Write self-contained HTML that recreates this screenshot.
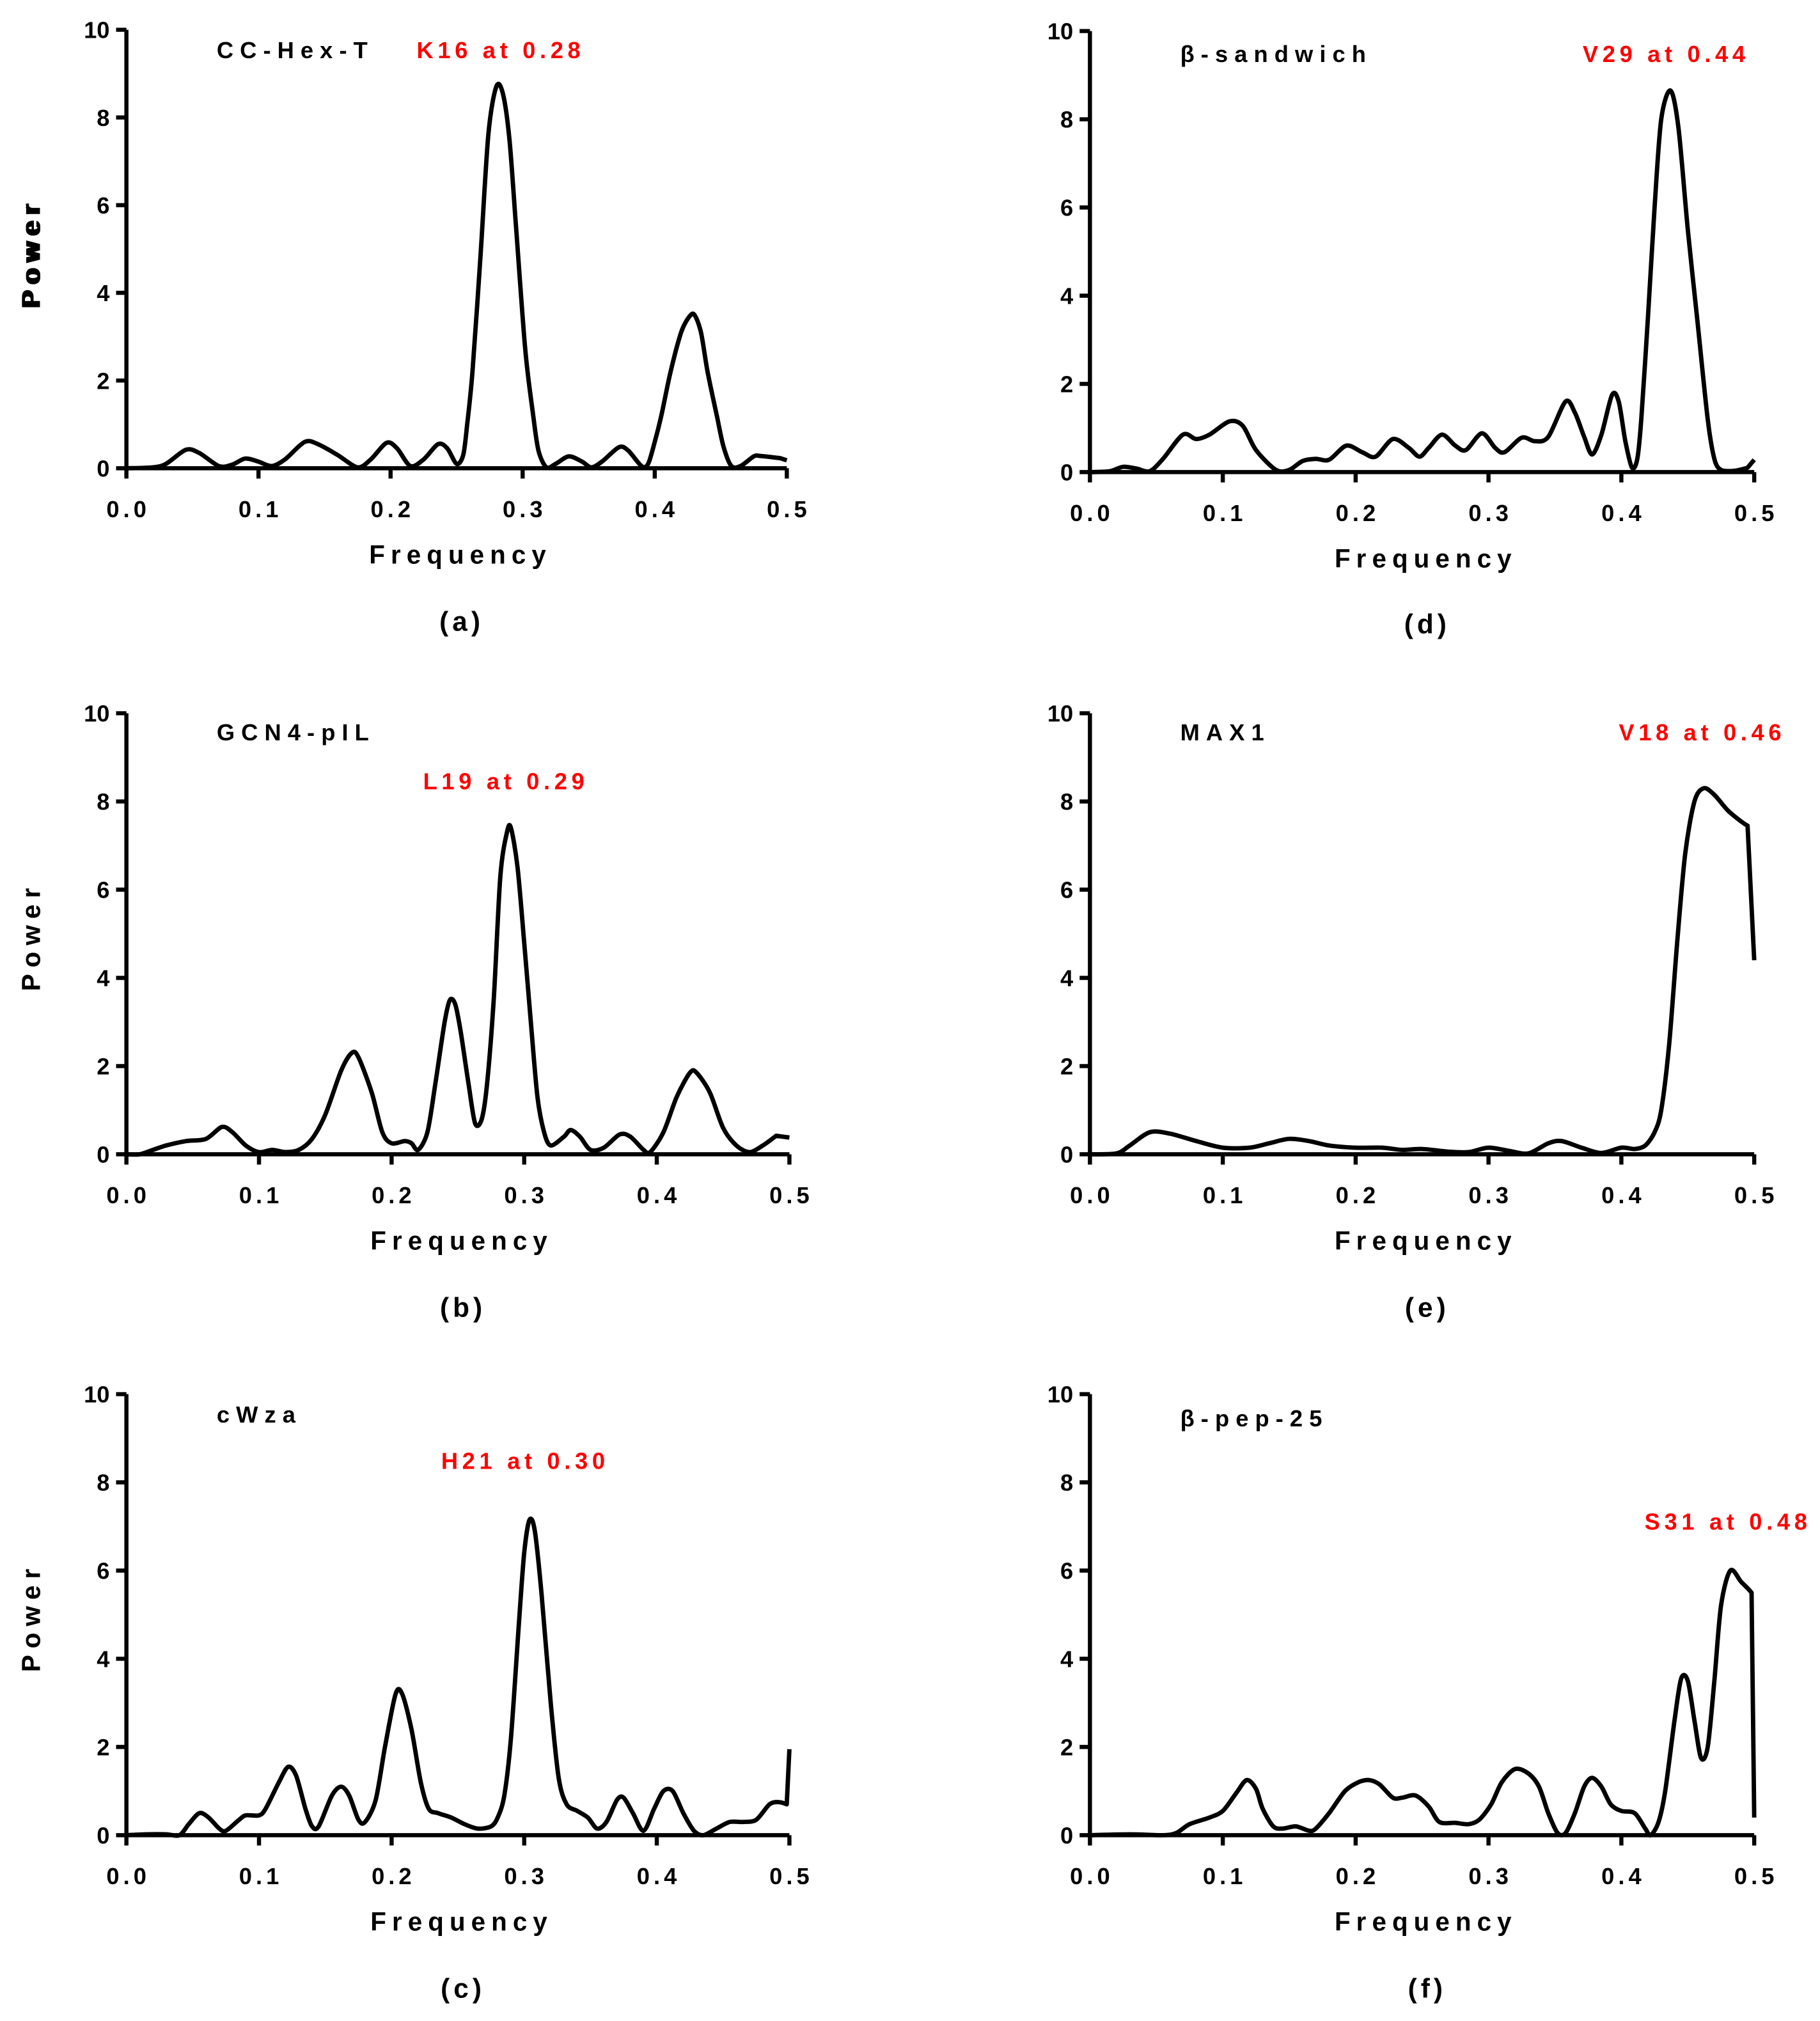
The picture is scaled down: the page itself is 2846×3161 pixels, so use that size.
<!DOCTYPE html>
<html><head><meta charset="utf-8"><style>
html,body{margin:0;padding:0;background:#fff;}
svg{display:block;}
text{font-family:"Liberation Sans",Arial,sans-serif;font-weight:bold;}
</style></head><body>
<svg id="fig" width="2846" height="3161" viewBox="0 0 1411 1567" xmlns="http://www.w3.org/2000/svg"></svg>
<script>
const xTicks = [0, 0.1, 0.2, 0.3, 0.4, 0.5];
const xTickLabels = ["0.0","0.1","0.2","0.3","0.4","0.5"];
const yTicks = [0, 2, 4, 6, 8, 10];
const yTickLabels = ["0","2","4","6","8","10"];

const freqA = [0,0.02,0.03,0.045,0.055,0.07,0.08,0.09,0.1,0.11,0.12,0.135,0.145,0.16,0.175,0.185,0.197,0.205,0.215,0.225,0.236,0.243,0.25,0.255,0.258,0.262,0.268,0.274,0.28,0.285,0.29,0.295,0.302,0.308,0.312,0.318,0.325,0.335,0.345,0.352,0.36,0.373,0.38,0.39,0.395,0.4,0.405,0.412,0.42,0.426,0.43,0.435,0.44,0.447,0.452,0.458,0.465,0.475,0.48,0.495,0.5];
const powA = [0,0.02,0.1,0.42,0.35,0.05,0.08,0.22,0.15,0.05,0.2,0.6,0.55,0.3,0.02,0.2,0.58,0.45,0.05,0.2,0.55,0.45,0.1,0.3,1.0,2.2,4.8,7.6,8.7,8.55,7.5,5.5,2.7,1.2,0.4,0.02,0.1,0.27,0.15,0.02,0.15,0.48,0.4,0.05,0.1,0.6,1.2,2.2,3.1,3.45,3.5,3.1,2.2,1.2,0.5,0.05,0.05,0.27,0.28,0.23,0.18];

const freqB = [0,0.01,0.02,0.03,0.045,0.06,0.072,0.08,0.09,0.1,0.11,0.12,0.13,0.14,0.15,0.162,0.17,0.175,0.185,0.193,0.2,0.21,0.215,0.22,0.227,0.233,0.24,0.244,0.248,0.252,0.258,0.263,0.268,0.272,0.277,0.282,0.287,0.29,0.295,0.3,0.305,0.31,0.315,0.32,0.33,0.335,0.342,0.35,0.36,0.372,0.38,0.39,0.395,0.405,0.415,0.425,0.43,0.44,0.45,0.46,0.47,0.48,0.49,0.5];
const powB = [0,0,0.1,0.2,0.3,0.35,0.62,0.5,0.2,0.05,0.1,0.05,0.1,0.35,0.9,1.9,2.3,2.2,1.4,0.5,0.25,0.3,0.25,0.1,0.5,1.6,3.0,3.5,3.4,2.8,1.6,0.7,0.8,1.6,3.5,6.3,7.3,7.4,6.5,4.8,3.0,1.3,0.5,0.2,0.4,0.55,0.4,0.1,0.15,0.45,0.4,0.1,0.05,0.5,1.3,1.85,1.85,1.4,0.6,0.2,0.05,0.2,0.42,0.38];

const freqC = [0,0.015,0.03,0.04,0.047,0.055,0.062,0.07,0.075,0.085,0.09,0.1,0.105,0.115,0.122,0.128,0.135,0.14,0.145,0.155,0.162,0.168,0.175,0.18,0.188,0.195,0.203,0.208,0.215,0.222,0.228,0.235,0.245,0.255,0.265,0.275,0.28,0.285,0.29,0.296,0.3,0.304,0.308,0.313,0.32,0.326,0.332,0.34,0.348,0.355,0.362,0.37,0.375,0.382,0.39,0.398,0.405,0.412,0.42,0.428,0.435,0.445,0.455,0.465,0.475,0.485,0.492,0.498,0.5];
const powC = [0,0.02,0.02,0,0.25,0.5,0.4,0.15,0.1,0.35,0.45,0.45,0.6,1.2,1.55,1.35,0.6,0.2,0.2,0.9,1.1,0.9,0.35,0.3,0.8,2,3.2,3.2,2.4,1.2,0.6,0.5,0.4,0.25,0.15,0.2,0.4,0.9,2.2,4.8,6.4,7.15,6.9,5.5,3.0,1.3,0.7,0.55,0.4,0.15,0.3,0.8,0.85,0.5,0.1,0.6,1.0,1.0,0.5,0.1,0,0.15,0.3,0.3,0.35,0.7,0.75,0.7,1.95];

const freqD = [0,0.015,0.025,0.035,0.045,0.055,0.07,0.08,0.09,0.105,0.115,0.125,0.14,0.15,0.16,0.17,0.18,0.193,0.205,0.215,0.228,0.24,0.248,0.255,0.265,0.275,0.283,0.295,0.305,0.312,0.325,0.335,0.345,0.358,0.365,0.372,0.378,0.385,0.393,0.398,0.403,0.408,0.412,0.415,0.42,0.425,0.43,0.437,0.443,0.45,0.457,0.465,0.47,0.475,0.485,0.495,0.5];
const powD = [0,0.02,0.12,0.08,0.02,0.3,0.85,0.75,0.85,1.15,1.05,0.5,0.05,0.05,0.25,0.3,0.28,0.6,0.45,0.35,0.75,0.55,0.35,0.55,0.85,0.6,0.5,0.88,0.55,0.45,0.78,0.7,0.8,1.6,1.35,0.8,0.4,0.85,1.75,1.6,0.7,0.1,0.3,1.2,3.5,6,8,8.65,7.8,5.5,3.5,1.2,0.3,0.05,0.03,0.1,0.28];

const freqE = [0,0.02,0.03,0.045,0.06,0.08,0.1,0.12,0.135,0.15,0.165,0.18,0.2,0.22,0.235,0.25,0.27,0.285,0.3,0.315,0.33,0.345,0.355,0.37,0.385,0.4,0.41,0.418,0.425,0.43,0.436,0.442,0.448,0.455,0.462,0.47,0.48,0.49,0.495,0.5];
const powE = [0,0.02,0.2,0.5,0.47,0.3,0.15,0.15,0.25,0.35,0.3,0.2,0.15,0.15,0.1,0.12,0.06,0.05,0.15,0.08,0.02,0.25,0.3,0.15,0.03,0.15,0.12,0.2,0.5,1,2.5,4.8,6.8,8,8.3,8.15,7.8,7.55,7.45,4.4];

const freqF = [0,0.03,0.055,0.065,0.075,0.09,0.1,0.11,0.118,0.125,0.13,0.138,0.145,0.155,0.165,0.17,0.18,0.192,0.202,0.21,0.218,0.228,0.235,0.245,0.255,0.263,0.275,0.285,0.293,0.302,0.31,0.32,0.33,0.338,0.345,0.352,0.358,0.365,0.372,0.378,0.385,0.392,0.4,0.41,0.418,0.422,0.428,0.433,0.44,0.445,0.45,0.455,0.46,0.465,0.47,0.475,0.482,0.49,0.495,0.498,0.5];
const powF = [0,0.02,0,0.05,0.25,0.4,0.55,0.95,1.25,1.05,0.6,0.2,0.15,0.2,0.1,0.15,0.5,1.0,1.2,1.25,1.15,0.85,0.85,0.9,0.65,0.3,0.28,0.25,0.35,0.7,1.2,1.5,1.4,1.1,0.5,0.05,0.05,0.5,1.1,1.3,1.1,0.7,0.55,0.5,0.15,0,0.3,1.0,2.6,3.55,3.5,2.6,1.75,2.0,3.5,5.2,6.0,5.75,5.6,5.5,0.4];

const panels = [
 {id:"a", x0:98, x1:610, y0:363, y1:23, freq:freqA, pow:powA, title:"CC-Hex-T", tx:168, ty:45, peak:"K16 at 0.28", px:323, py:45, fy:437, cy:489},
 {id:"d", x0:845, x1:1360, y0:366, y1:24, freq:freqD, pow:powD, title:"β-sandwich", tx:915, ty:48, peak:"V29 at 0.44", px:1227, py:48, fy:440, cy:491},
 {id:"b", x0:98, x1:612, y0:895, y1:553, freq:freqB, pow:powB, title:"GCN4-pIL", tx:168, ty:574, peak:"L19 at 0.29", px:328, py:612, fy:969, cy:1021},
 {id:"e", x0:845, x1:1360, y0:895, y1:553, freq:freqE, pow:powE, title:"MAX1", tx:915, ty:574, peak:"V18 at 0.46", px:1255, py:574, fy:969, cy:1021},
 {id:"c", x0:98, x1:612, y0:1423, y1:1081, freq:freqC, pow:powC, title:"cWza", tx:168, ty:1103, peak:"H21 at 0.30", px:342, py:1139, fy:1497, cy:1549},
 {id:"f", x0:845, x1:1360, y0:1423, y1:1081, freq:freqF, pow:powF, title:"β-pep-25", tx:915, ty:1106, peak:"S31 at 0.48", px:1275, py:1186, fy:1497, cy:1549}
];
const NS = "http://www.w3.org/2000/svg";
const svg = document.getElementById("fig");
function mk(tag, attrs, parent){
  const e = document.createElementNS(NS, tag);
  for (const k in attrs) e.setAttribute(k, attrs[k]);
  (parent||svg).appendChild(e);
  return e;
}
function smoothPath(pts){
  let d = "M" + pts[0][0].toFixed(2) + "," + pts[0][1].toFixed(2);
  const n = pts.length;
  for (let i = 0; i < n - 1; i++) {
    const p1 = pts[i], p2 = pts[i+1];
    if (i >= n - 2) { d += "L" + p2[0].toFixed(2) + "," + p2[1].toFixed(2); continue; }
    const p0 = pts[Math.max(0,i-1)], p3 = pts[Math.min(n-1,i+2)];
    const t = 0.15;
    const t2 = (i + 2 >= n - 1) ? 0 : t;
    const c1x = p1[0] + (p2[0]-p0[0])*t, c1y = p1[1] + (p2[1]-p0[1])*t;
    const c2x = p2[0] - (p3[0]-p1[0])*t2, c2y = p2[1] - (p3[1]-p1[1])*t2;
    d += "C" + c1x.toFixed(2) + "," + c1y.toFixed(2) + " " + c2x.toFixed(2) + "," + c2y.toFixed(2) + " " + p2[0].toFixed(2) + "," + p2[1].toFixed(2);
  }
  return d;
}
panels.forEach(p => {
  const g = mk("g", {});
  
  
  const sx = v => p.x0 + (p.x1 - p.x0) * v / 0.5;
  const sy = v => p.y0 + (p.y1 - p.y0) * v / 10;
  const ya = mk("line", {x1:p.x0, y1:p.y0+1.5, x2:p.x0, y2:p.y1, stroke:"#000","stroke-width":3.2}, g);
  
  
  const xa = mk("line", {x1:p.x0-1.5, y1:p.y0, x2:p.x1, y2:p.y0, stroke:"#000","stroke-width":3.2}, g);
  
  
  yTicks.forEach((t,i) => {
    const y = sy(t);
    mk("line", {x1:p.x0-8, y1:y, x2:p.x0, y2:y, stroke:"#000","stroke-width":3.2}, g);
    const tl = mk("text", {x:p.x0-13, y:y+6.5, "text-anchor":"end", "font-size":18}, g);
    tl.textContent = yTickLabels[i];
    
    
  });
  xTicks.forEach((t,i) => {
    const x = sx(t);
    mk("line", {x1:x, y1:p.y0, x2:x, y2:p.y0+8, stroke:"#000","stroke-width":3.2}, g);
    const tl = mk("text", {x:x+1.5, y:p.y0+38, "text-anchor":"middle", "font-size":18, "letter-spacing":3}, g);
    tl.textContent = xTickLabels[i];
    
    
  });
  const pts = p.freq.map((f,i) => [sx(f), sy(p.pow[i])]);
  const path = mk("path", {d:smoothPath(pts), fill:"none", stroke:"#000", "stroke-width":3.4, "stroke-linejoin":"round"}, g);
  
  
  const t1 = mk("text", {x:p.tx, y:p.ty, "font-size":18, "letter-spacing":5, fill:"#000"}, g);
  t1.textContent = p.title;
  
  
  const t2 = mk("text", {x:p.px, y:p.py, "font-size":18, "letter-spacing":3.3, fill:"#ff0000"}, g);
  t2.textContent = p.peak;
  
  
  const mid = (p.x0 + p.x1) / 2;
  const xt = mk("text", {x:mid+3, y:p.fy, "text-anchor":"middle", "font-size":20, "letter-spacing":4.5}, g);
  xt.textContent = "Frequency";
  
  
  const ymid = (p.y0 + p.y1) / 2;
  const yt = mk("text", {x:0, y:0, "text-anchor":"middle", "font-size":20, "letter-spacing":5, transform:"translate(31,"+(ymid+2)+") rotate(-90)"}, g);
  yt.textContent = "Power";
  
  
  const cap = mk("text", {x:mid+4, y:p.cy, "text-anchor":"middle", "font-size":21, "letter-spacing":3}, g);
  cap.textContent = "(" + p.id + ")";
  
  
});
</script>
</body></html>
